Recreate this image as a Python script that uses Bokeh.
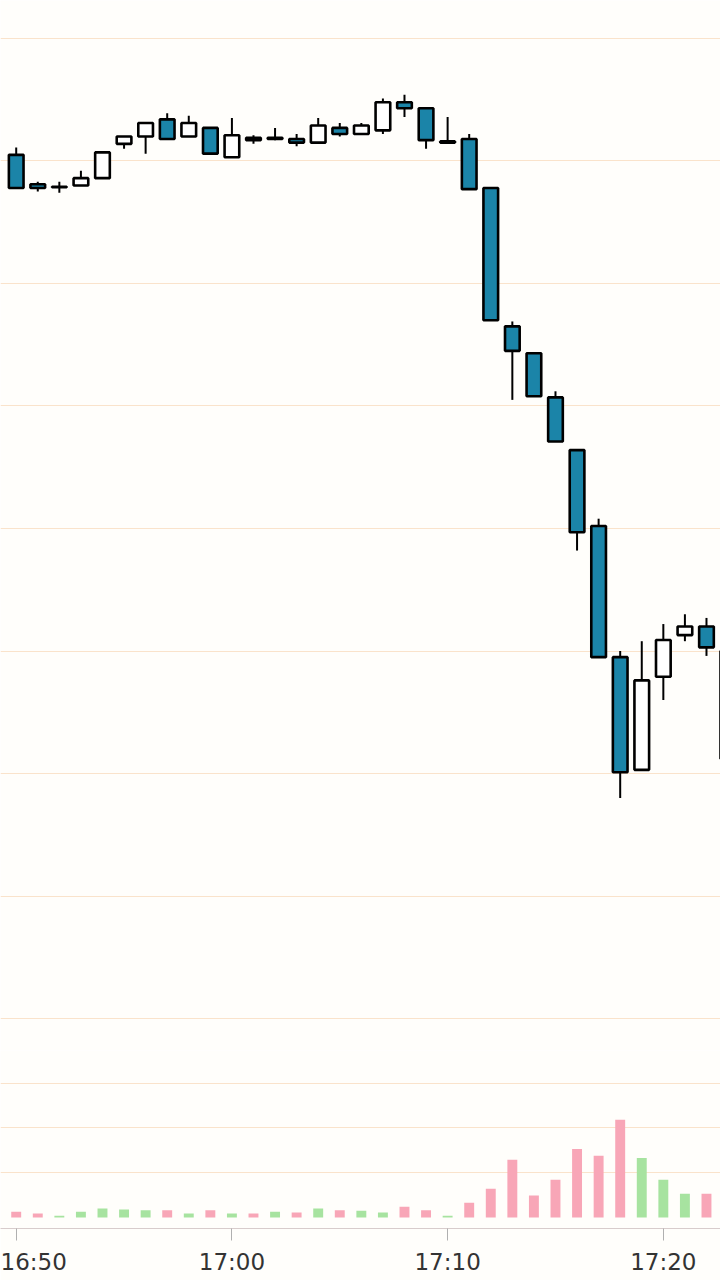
import pandas as pd
from bokeh.plotting import figure
from bokeh.layouts import column
from bokeh.models import Range1d, FixedTicker, DatetimeTickFormatter, ColumnDataSource
from bokeh.embed import file_html
from bokeh.resources import INLINE

# ---------------- data ----------------
times = ["16:50", "16:51", "16:52", "16:53", "16:54", "16:55", "16:56", "16:57",
         "16:58", "16:59", "17:00", "17:01", "17:02", "17:03", "17:04", "17:05",
         "17:06", "17:07", "17:08", "17:09", "17:10", "17:11", "17:12", "17:13",
         "17:14", "17:15", "17:16", "17:17", "17:18", "17:19", "17:20", "17:21",
         "17:22", "17:23"]
opens = [107.05, 106.81, 106.785, 106.80, 106.86, 107.14, 107.20, 107.34,
         107.20, 107.27, 107.03, 107.19, 107.18, 107.18, 107.15, 107.27,
         107.22, 107.25, 107.48, 107.43, 107.15, 107.18, 106.78, 105.65,
         105.43, 105.07, 104.64, 104.02, 102.95, 102.03, 102.79, 103.13,
         103.20, 102.12]
highs = [107.11, 106.83, 106.83, 106.92, 107.07, 107.20, 107.31, 107.39,
         107.37, 107.27, 107.35, 107.21, 107.27, 107.22, 107.35, 107.31,
         107.31, 107.51, 107.54, 107.43, 107.36, 107.22, 106.78, 105.69,
         105.43, 105.12, 104.64, 104.08, 103.00, 103.08, 103.22, 103.30,
         103.27, 103.06]
lows = [106.78, 106.75, 106.74, 106.80, 106.86, 107.10, 107.06, 107.18,
        107.20, 107.06, 107.03, 107.14, 107.17, 107.12, 107.15, 107.20,
        107.22, 107.22, 107.36, 107.10, 107.15, 106.77, 105.70, 105.05,
        105.08, 104.71, 103.82, 102.95, 101.80, 102.03, 102.60, 103.08,
        102.96, 102.12]
closes = [106.78, 106.78, 106.79, 106.86, 107.07, 107.20, 107.31, 107.18,
          107.31, 107.06, 107.21, 107.17, 107.19, 107.15, 107.29, 107.22,
          107.29, 107.48, 107.43, 107.17, 107.16, 106.77, 105.70, 105.45,
          105.08, 104.71, 103.97, 102.95, 102.01, 102.76, 103.09, 103.20,
          103.03, 103.00]
volumes = [65, 45, 20, 65, 100, 90, 80, 80,
           45, 80, 45, 45, 65, 55, 100, 80,
           75, 55, 120, 80, 20, 165, 320, 645,
           245, 420, 765, 690, 1090, 665, 420, 265,
           265, 300]
price_grid = [100, 101, 102, 103, 104, 105, 106, 107, 108]
volume_grid = [500, 1000, 1500]
tick_times = ["16:50", "17:00", "17:10", "17:20"]

# ---------------- styling ----------------
BG = "#fffefb"
GRID = "#fae3cb"
BLUE = "#1b84a8"
PINK = "#f8a6b7"
GREEN = "#a7e3a0"
DAY = "2024-05-02 "

x = pd.to_datetime([DAY + t for t in times])
t0 = pd.Timestamp(DAY + "16:50")
minute = pd.Timedelta(minutes=1)
x_range = Range1d(start=t0 - 0.728 * minute, end=t0 + 32.65 * minute)

rising = [c >= o for o, c in zip(opens, closes)]
src = ColumnDataSource(dict(
    x=x, open=opens, high=highs, low=lows, close=closes, vol=volumes,
    top=[max(o, c) for o, c in zip(opens, closes)],
    bottom=[min(o, c) for o, c in zip(opens, closes)],
    fill=["white" if r else BLUE for r in rising],
    vcolor=[GREEN if r else PINK for r in rising],
))

body_w = 0.68 * 60000
vol_w = 0.46 * 60000

p = figure(width=720, height=1050, x_axis_type="datetime", x_range=x_range,
           y_range=Range1d(99.739, 108.310), output_backend="svg",
           toolbar_location=None, min_border=0, x_axis_location=None,
           y_axis_location=None, background_fill_color=BG, border_fill_color=BG,
           outline_line_color=None)
p.xgrid.visible = False
p.ygrid.ticker = FixedTicker(ticks=price_grid)
p.ygrid.grid_line_color = GRID
p.ygrid.grid_line_width = 1.2

p.segment(x0="x", y0="high", x1="x", y1="low", source=src,
          line_color="black", line_width=2)
p.vbar(x="x", width=body_w, top="top", bottom="bottom", source=src,
       fill_color="fill", line_color="black", line_width=2.6)

v = figure(width=720, height=230, x_axis_type="datetime", x_range=x_range,
           y_range=Range1d(-122.8, 1863.7), output_backend="svg",
           toolbar_location=None, min_border=0, min_border_bottom=52,
           x_axis_location="below",
           y_axis_location=None, background_fill_color=BG, border_fill_color=BG,
           outline_line_color=None)
v.xgrid.visible = False
v.ygrid.ticker = FixedTicker(ticks=volume_grid)
v.ygrid.grid_line_color = GRID
v.ygrid.grid_line_width = 1.2

v.vbar(x="x", width=vol_w, top="vol", bottom=0, source=src,
       fill_color="vcolor", line_color=None)

ax = v.xaxis[0]
ax.ticker = FixedTicker(ticks=[pd.Timestamp(DAY + t).value // 10**6 for t in tick_times])
fmt = "%H:%M"
ax.formatter = DatetimeTickFormatter(microseconds=fmt, milliseconds=fmt, seconds=fmt,
                                     minsec=fmt, minutes=fmt, hourmin=fmt, hours=fmt)
ax.axis_line_color = "#d8cccc"
ax.axis_line_width = 1
ax.major_tick_line_color = "#b0b0b0"
ax.major_tick_out = 12
ax.major_tick_in = 0
ax.minor_tick_out = 0
ax.minor_tick_in = 0
ax.major_label_text_font = "DejaVu Sans"
ax.major_label_text_font_size = "23px"
ax.major_label_text_color = "#333333"
ax.major_label_standoff = 8

layout = column(p, v, spacing=0)
open("out.html", "w").write(file_html(layout, INLINE))
